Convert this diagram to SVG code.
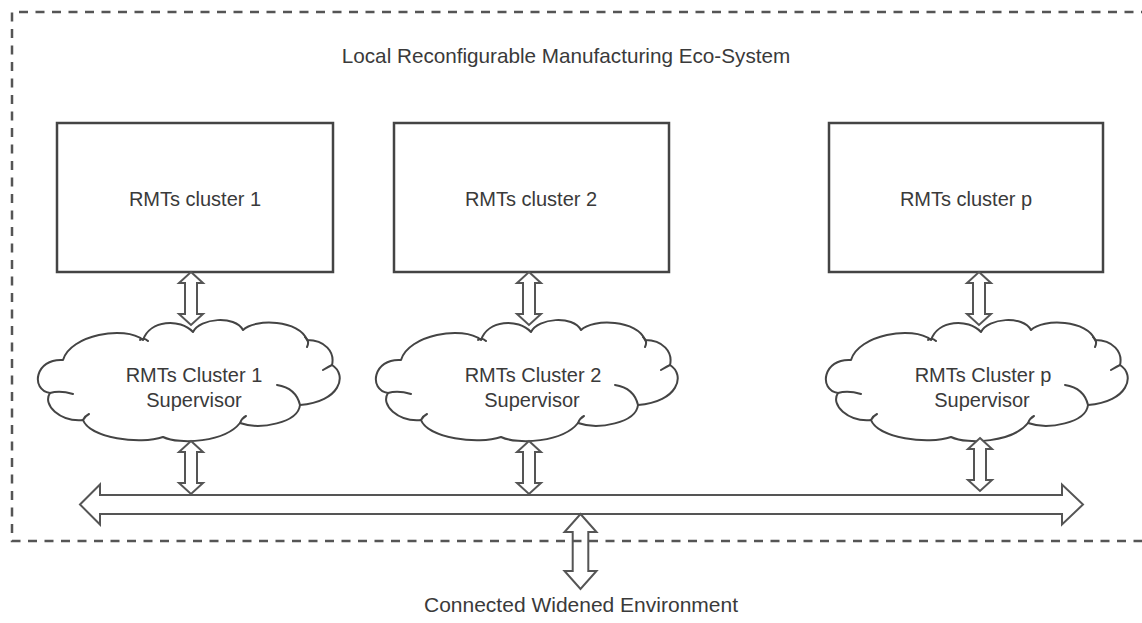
<svg xmlns="http://www.w3.org/2000/svg" width="1142" height="623" viewBox="0 0 1142 623">
<style>
text{font-family:"Liberation Sans",Arial,sans-serif;font-size:20px;fill:#3a3a3a;text-anchor:middle}
.box{fill:#fff;stroke:#444;stroke-width:2.5}
.cloud{fill:#fff;stroke:#444;stroke-width:2;stroke-linejoin:round}
.curl{fill:none;stroke:#444;stroke-width:2;stroke-linecap:round}
.arr{fill:#fff;stroke:#555;stroke-width:2;stroke-linejoin:miter}
.border{fill:none;stroke:#555;stroke-width:2.5;stroke-dasharray:9 7.5}
</style>
<defs>
<path id="vdbl" d="M0,0 L12,11 L6,11 L6,42 L12,42 L0,53 L-12,42 L-6,42 L-6,11 L-12,11 Z"/>
<g id="cloudshape">
<path class="cloud" d="M20,103 C0,100 5,68 33,70 C40,45 95,35 113,50 C120,30 150,28 163,42 C170,28 205,25 213,40 C225,28 270,30 277,50 C295,50 305,62 302,75 C318,85 310,112 270,115 C268,133 230,140 210,133 C195,152 150,155 133,147 C110,155 60,148 53,130 C30,132 12,115 20,103 Z"/>
<path class="curl" d="M20,103 Q30,100 43,104 M110,50 Q114,47 118,51 M275,47 Q280,51 277,57 M293,80 Q298,77 302,75 M247,95 Q266,98 270,115 M210,133 Q212,128 216,126 M53,130 Q55,126 59,124"/>
</g>
</defs>
<rect width="1142" height="623" fill="#fff"/>
<g id="ecosystem">
<path class="border" d="M1150,12 L12,12 L12,541 L1150,541"/>
<text x="566" y="63" style="font-size:20.7px">Local Reconfigurable Manufacturing Eco-System</text>
</g>
<g id="cluster1"><rect class="box" x="57" y="123" width="276" height="149"/><text x="195" y="206">RMTs cluster 1</text></g>
<g id="cluster2"><rect class="box" x="394" y="123" width="275" height="149"/><text x="531" y="206">RMTs cluster 2</text></g>
<g id="clusterp"><rect class="box" x="829" y="123" width="274" height="149"/><text x="966" y="206">RMTs cluster p</text></g>
<g id="supervisor1"><use href="#cloudshape" transform="translate(30,290)"/><text x="194" y="382">RMTs Cluster 1</text><text x="194" y="407">Supervisor</text></g>
<g id="supervisor2"><use href="#cloudshape" transform="translate(368,290)"/><text x="533" y="382">RMTs Cluster 2</text><text x="532" y="407">Supervisor</text></g>
<g id="supervisorp"><use href="#cloudshape" transform="translate(818,290)"/><text x="983" y="382">RMTs Cluster p</text><text x="982" y="407">Supervisor</text></g>
<g id="environment"><text x="581" y="612" style="font-size:21px">Connected Widened Environment</text></g>
<g id="connectors">
<use href="#vdbl" class="arr" transform="translate(191,272)"/>
<use href="#vdbl" class="arr" transform="translate(529,272)"/>
<use href="#vdbl" class="arr" transform="translate(979,272)"/>
<use href="#vdbl" class="arr" transform="translate(191,441)"/>
<use href="#vdbl" class="arr" transform="translate(529,441)"/>
<use href="#vdbl" class="arr" transform="translate(980,438)"/>
<path class="arr" d="M80,504.5 L100,484.5 L100,495 L1062,495 L1062,484.5 L1083,504.5 L1062,524.5 L1062,514 L100,514 L100,524.5 Z"/>
<path class="arr" style="fill:none" d="M580.5,514 L596.5,532 L588.3,532 L588.3,571 L596.5,571 L580.5,589 L564.5,571 L572.7,571 L572.7,532 L564.5,532 Z"/>
</g>
</svg>
